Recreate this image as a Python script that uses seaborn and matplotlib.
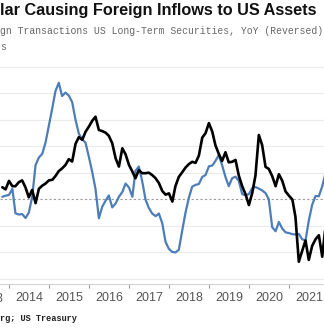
import numpy as np
import pandas as pd
import matplotlib
matplotlib.use("Agg")
import matplotlib.pyplot as plt
import matplotlib.dates as mdates
import matplotlib.ticker as mticker
import seaborn as sns

# ---------------- data (monthly) ----------------
start_month = "2013-10-31"
dollar_series = [
    0.46, 0.38, 0.70, 0.50, 0.50, 0.65, 0.72, 0.45, 0.08, 0.36,
    -0.14, 0.40, 0.52, 0.60, 0.72, 0.74, 0.88, 1.07, 1.17, 1.30,
    1.52, 1.43, 2.10, 2.35, 2.25, 2.55, 2.75, 2.97, 3.12, 2.62,
    2.58, 2.52, 2.40, 2.12, 1.55, 1.24, 1.93, 1.70, 1.30, 1.05,
    0.80, 1.11, 0.99, 0.99, 1.01, 0.92, 0.80, 0.62, 0.32, 0.18,
    0.23, -0.08, 0.50, 0.85, 1.02, 1.20, 1.33, 1.42, 1.38, 1.65,
    2.33, 2.50, 2.88, 2.55, 2.05, 1.72, 1.45, 1.78, 1.40, 1.42,
    1.49, 0.90, 0.50, 0.20, -0.21, 0.25, 0.90, 2.43, 2.05, 1.23,
    1.15, 0.88, 0.50, 0.95, 0.70, 0.30, 0.14, 0.00, -0.65, -2.35,
    -1.95, -1.55, -2.28, -1.75, -1.50, -1.35, -2.16, -1.00,
]
flows_series = [
    0.10, 0.14, 0.17, 0.40, -0.52, -0.57, -0.55, -0.70, -0.50, 0.10,
    1.30, 1.58, 1.72, 2.15, 2.80, 3.45, 4.08, 4.40, 3.90, 4.03,
    3.92, 3.67, 3.00, 2.48, 2.27, 2.14, 1.60, 1.02, 0.40, -0.71,
    -0.28, -0.05, 0.15, -0.30, -0.15, 0.10, 0.28, 0.60, 0.45, 0.10,
    1.08, 1.24, 0.70, 0.00, -0.32, -0.53, -0.63, -0.53, -0.90, -1.60,
    -1.87, -1.98, -2.00, -1.90, -1.20, -0.50, 0.05, 0.48, 0.55, 0.58,
    0.85, 0.92, 1.25, 1.28, 1.45, 1.67, 1.30, 0.85, 0.50, 0.80,
    0.86, 0.70, 0.20, 0.16, 0.20, 0.43, 0.47, 0.41, 0.34, 0.24,
    0.00, -1.05, -1.20, -0.85, -1.10, -1.24, -1.27, -1.31, -1.32, -1.30,
    -1.50, -1.55, -0.80, -0.20, 0.13, 0.12, 0.50, 1.00,
]
year_labels = ["2013", "2014", "2015", "2016", "2017", "2018", "2019", "2020", "2021"]
title_text = "lar Causing Foreign Inflows to US Assets"
subtitle_line1 = "gn Transactions US Long-Term Securities, YoY (Reversed)"
subtitle_line2 = "s"
source_text = "rg; US Treasury"

dates = pd.date_range(start_month, periods=len(dollar_series), freq="ME")
df = pd.DataFrame({
    "date": list(dates) * 2,
    "value": dollar_series + flows_series,
    "series": ["Dollar"] * len(dollar_series) + ["Flows"] * len(flows_series),
})

# ---------------- styling ----------------
sns.set_theme(style="white")
plt.rcParams["font.family"] = ["Liberation Sans", "DejaVu Sans"]

BLUE = "#4d7db8"
fig = plt.figure(figsize=(3.24, 3.35), dpi=100)
ax = fig.add_axes([0.0, 0.1522, 1.0, 0.6687])

sns.lineplot(data=df[df.series == "Flows"], x="date", y="value", color=BLUE,
             linewidth=1.6, ax=ax, legend=False)
sns.lineplot(data=df[df.series == "Dollar"], x="date", y="value", color="black",
             linewidth=1.9, ax=ax, legend=False)

ax.set_xlim(pd.Timestamp("2013-10-10"), pd.Timestamp("2021-11-16"))
ax.set_ylim(-3.19, 5.26)

# grid
for v in [-3, -2, -1, 1, 2, 3, 4, 5]:
    ax.axhline(v, color="#ebebeb", linewidth=0.8, zorder=0)
ax.axhline(0, color="#9a9a9a", linewidth=0.8, linestyle=(0, (2, 2)), zorder=0.5)

ax.set_xlabel("")
ax.set_ylabel("")
ax.set_yticks([])
for s in ["top", "left", "right"]:
    ax.spines[s].set_visible(False)
ax.spines["bottom"].set_color("#d4d4d4")
ax.spines["bottom"].set_linewidth(0.8)

ax.xaxis.set_major_locator(mdates.YearLocator())
ax.xaxis.set_major_formatter(mticker.NullFormatter())
ax.xaxis.set_minor_locator(mdates.MonthLocator(bymonth=7, bymonthday=1))
ax.xaxis.set_minor_formatter(mdates.DateFormatter("%Y"))
ax.tick_params(axis="x", which="major", direction="out", length=3.2, width=0.8,
               color="#9a9a9a", bottom=True)
ax.tick_params(axis="x", which="minor", length=0, pad=5.5, labelsize=9,
               labelcolor="#555555", bottom=True)
# first year label lies partly off the left edge
ax.text(pd.Timestamp(f"{year_labels[0]}-07-01"), -0.0656, year_labels[0],
        transform=ax.get_xaxis_transform(), ha="center", va="center",
        fontsize=9, color="#555555")

# texts
fig.text(0.0, 0.970, title_text, ha="left", va="center", fontsize=11.7,
         fontweight="bold", color="#111111")
fig.text(0.0, 0.9075, subtitle_line1, ha="left", va="center", fontsize=7.0,
         family=["Liberation Mono", "DejaVu Sans Mono"], color="#666666")
fig.text(0.0, 0.860, subtitle_line2, ha="left", va="center", fontsize=7.0,
         family=["Liberation Mono", "DejaVu Sans Mono"], color="#666666")
fig.text(0.0, 0.0507, source_text, ha="left", va="center", fontsize=6.2,
         fontweight="bold", family=["Liberation Mono", "DejaVu Sans Mono"],
         color="#222222")

fig.savefig("out.png", dpi=100)
